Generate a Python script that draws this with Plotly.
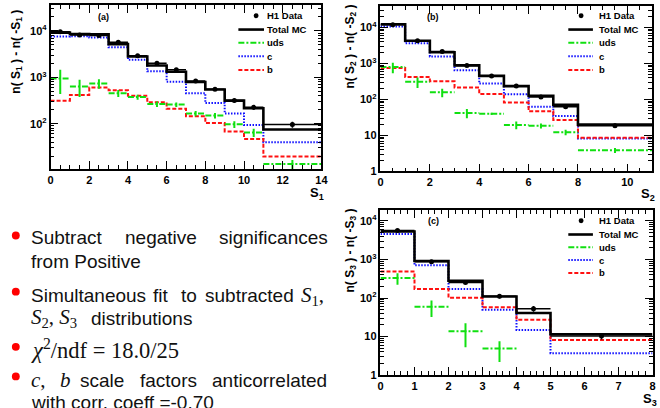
import plotly.graph_objects as go

# ---------------- data ----------------
# panel (a): S1
edges_a = [0, 1, 2, 3, 4, 5, 6, 7, 8, 9, 10, 11, 14]
data_a = [9600, 8200, 8000, 5700, 2900, 2000, 1450, 830, 555, 315, 225, 96]
data_err_a = [150, 140, 140, 120, 90, 75, 65, 50, 40, 30, 25, 14]
mc_a = [9200, 8600, 8500, 5200, 2800, 1800, 1320, 790, 545, 315, 215, 75]
c_a = [7600, 7700, 7200, 4440, 2400, 1350, 800, 455, 279, 166, 94, 40]
b_a = [313, 418, 600, 525, 400, 290, 210, 145, 103, 68, 47, 19.6]
uds_a = [945, 630, 740, 455, 375, 265, 258, 166, 150, 97, 65, 13.5]
uds_err_a = [510, 255, 170, 80, 45, 35, 30, 22, 20, 16, 13, 3]

# panel (b): S2
edges_b = [0, 1, 2, 3, 4, 5, 6, 7, 8, 11]
data_b = [12000, 4300, 2150, 885, 452, 235, 117, 63, 18.7]
data_err_b = [150, 90, 60, 40, 25, 18, 12, 9, 2.5]
mc_b = [12300, 4300, 2060, 885, 452, 235, 127, 71, 20]
c_b = [10700, 3640, 1560, 645, 277, 139, 63, 35, 8.2]
b_b = [750, 424, 323, 216, 141, 82, 47, 27, 8.6]
uds_b = [795, 310, 158, 42, 40, 19.6, 18.6, 12.3, 3.85]
uds_err_b = [260, 100, 42, 12, 3, 4.7, 3, 2.1, 0.6]

# panel (c): S3
edges_c = [0, 1, 2, 3, 4, 5, 8]
data_c = [5650, 875, 254, 112, 53, 10.4]
data_err_c = [110, 45, 25, 15, 9, 2]
mc_c = [5340, 910, 280, 110, 41, 11.5]
c_c = [4560, 705, 172, 50, 14.8, 3.7]
b_c = [490, 172, 101, 58, 27.5, 8.2]
uds_c = [330, 59, 13.8, 4.9]
uds_err_c = [110, 27, 8.5, 2.7]

x_ticks_a = [0, 2, 4, 6, 8, 10, 12, 14]
x_ticks_b = [0, 2, 4, 6, 8, 10]
x_ticks_c = [0, 1, 2, 3, 4, 5, 6, 7, 8]
y_ticks_a = [100, 1000, 10000]
y_ticks_bc = [1, 10, 100, 1000, 10000]
legend_names = ["H1 Data", "Total MC", "uds", "c", "b"]

# ---------------- style ----------------
W, H = 660, 408
def px(x):
    return x / W
def py(y):
    return 1 - y / H

GREEN = "#10e010"
BLUE = "#1010ff"
RED = "#ff1010"
TICKFONT = dict(family="Liberation Sans", size=11, color="black", weight="bold")
SANS = "Liberation Sans"
SERIF = "Liberation Serif"

DASH_B = "4px,2px"
DASH_C = "1.5px,1.5px"
DASH_UDS = "6px,2px,2px,2px"

fig = go.Figure()

panels = [
    dict(xa="x", ya="y", edges=edges_a, data=data_a, derr=data_err_a, mc=mc_a, c=c_a, b=b_a,
         uds=uds_a, uerr=uds_err_a),
    dict(xa="x2", ya="y2", edges=edges_b, data=data_b, derr=data_err_b, mc=mc_b, c=c_b, b=b_b,
         uds=uds_b, uerr=uds_err_b),
    dict(xa="x3", ya="y3", edges=edges_c, data=data_c, derr=data_err_c, mc=mc_c, c=c_c, b=b_c,
         uds=uds_c, uerr=uds_err_c),
]

for p in panels:
    e = p["edges"]
    centers = [(e[i] + e[i + 1]) / 2 for i in range(len(e) - 1)]
    halfw = [(e[i + 1] - e[i]) / 2 for i in range(len(e) - 1)]
    common = dict(xaxis=p["xa"], yaxis=p["ya"], showlegend=False, hoverinfo="skip")
    # c
    fig.add_trace(go.Scatter(x=e, y=p["c"] + [p["c"][-1]], mode="lines", line_shape="hv",
                             line=dict(color=BLUE, width=2, dash=DASH_C), **common))
    # b
    fig.add_trace(go.Scatter(x=e, y=p["b"] + [p["b"][-1]], mode="lines", line_shape="hv",
                             line=dict(color=RED, width=2, dash=DASH_B), **common))
    # uds horizontal segments
    ux, uy = [], []
    for i, v in enumerate(p["uds"]):
        ux += [e[i], e[i + 1], None]
        uy += [v, v, None]
    fig.add_trace(go.Scatter(x=ux, y=uy, mode="lines",
                             line=dict(color=GREEN, width=2, dash=DASH_UDS), **common))
    n = len(p["uds"])
    fig.add_trace(go.Scatter(x=centers[:n], y=p["uds"], mode="markers",
                             marker=dict(size=1, color="rgba(0,0,0,0)"),
                             error_y=dict(type="data", array=p["uerr"], color=GREEN,
                                          thickness=2, width=0),
                             **common))
    # total MC
    fig.add_trace(go.Scatter(x=e, y=p["mc"] + [p["mc"][-1]], mode="lines", line_shape="hv",
                             line=dict(color="black", width=2.6), **common))
    # data
    fig.add_trace(go.Scatter(x=centers, y=p["data"], mode="markers",
                             marker=dict(size=5, color="black"),
                             error_x=dict(type="data", array=halfw, color="black",
                                          thickness=1.5, width=0),
                             error_y=dict(type="data", array=p["derr"], color="black",
                                          thickness=1.5, width=0),
                             **common))

minor_log = [k * 10 ** n for n in range(0, 5) for k in range(2, 10)]

def xaxis(domain, rng, ticks, minor_dt, anchor):
    return dict(domain=domain, range=rng, anchor=anchor, tickvals=ticks,
                ticktext=[str(t) for t in ticks], ticks="inside", ticklen=8,
                tickwidth=1, tickcolor="black", showline=True, linewidth=1.5,
                linecolor="black", mirror="ticks", showgrid=False, zeroline=False,
                tickfont=TICKFONT,
                minor=dict(ticks="inside", ticklen=4, dtick=minor_dt, tickcolor="black",
                           showgrid=False))

def yaxis(domain, rng, ticks, anchor):
    def lab(t):
        if t == 1:
            return "1"
        if t == 10:
            return "10"
        ex = len(str(int(t))) - 1
        return "10<sup>%d</sup>" % ex
    return dict(domain=domain, range=rng, type="log", anchor=anchor, tickvals=ticks,
                ticktext=[lab(t) for t in ticks], ticks="inside", ticklen=8,
                tickwidth=1, tickcolor="black", showline=True, linewidth=1.5,
                linecolor="black", mirror="ticks", showgrid=False, zeroline=False,
                tickfont=TICKFONT,
                minor=dict(ticks="inside", ticklen=4, tickvals=minor_log, tickcolor="black",
                           showgrid=False))

fig.update_layout(
    width=W, height=H, autosize=False,
    margin=dict(l=0, r=0, t=0, b=0),
    paper_bgcolor="white", plot_bgcolor="white",
    xaxis=xaxis([px(48.3), px(323.3)], [0, 14], x_ticks_a, 0.5, "y"),
    yaxis=yaxis([py(171.7), py(5)], [1.02, 4.56], y_ticks_a, "x"),
    xaxis2=xaxis([px(383.3), px(659)], [0, 11], x_ticks_b, 0.5, "y2"),
    yaxis2=yaxis([py(174), py(6)], [0, 4.6], y_ticks_bc, "x2"),
    xaxis3=xaxis([px(383.3), px(659.5)], [0, 8], x_ticks_c, 0.2, "y3"),
    yaxis3=yaxis([py(380.7), py(213.3)], [0, 4.28], y_ticks_bc, "x3"),
)

ann = []
shapes = []

def text(x, y, s, size=12, family=SANS, bold=False, anchor="left", angle=0, yanchor="middle",
         color="black"):
    f = dict(family=family, size=size, color=color)
    if bold:
        f["weight"] = "bold"
    ann.append(dict(x=px(x), y=py(y), xref="paper", yref="paper", text=s, showarrow=False,
                    xanchor=anchor, yanchor=yanchor, font=f, textangle=angle, borderpad=0,
                    borderwidth=0))

# axis titles
for (x, ytop, k) in [(14, 10, 1), (353, 5, 2), (353, 212, 3)]:
    text(x, ytop, "n( S<sub>%d</sub> ) - n( -S<sub>%d</sub> )" % (k, k), size=12, bold=True,
         anchor="center", angle=-90, yanchor="top")
text(326, 196, "S<sub>1</sub>", size=13, bold=True, anchor="right")
text(662, 197, "S<sub>2</sub>", size=13, bold=True, anchor="right")
text(664, 405, "S<sub>3</sub>", size=13, bold=True, anchor="right")

# panel labels
text(102, 17, "(a)", size=9, bold=True, anchor="center")
text(437, 17, "(b)", size=9, bold=True, anchor="center")
text(437, 224, "(c)", size=9, bold=True, anchor="center")

# legends
legend_specs = [
    (257, 239, 265, 268, [16, 30, 43.5, 57, 71]),
    (587, 574, 599, 605, [16, 30, 43.5, 57, 71]),
    (587, 574, 599, 605, [224, 238, 251, 264, 277]),
]
line_styles = [None, dict(color="black", width=2.6), dict(color=GREEN, width=2, dash=DASH_UDS),
               dict(color=BLUE, width=2, dash=DASH_C), dict(color=RED, width=2, dash=DASH_B)]
for (mx, lx0, lx1, tx, rows) in legend_specs:
    for name, ry, st in zip(legend_names, rows, line_styles):
        if st is None:
            shapes.append(dict(type="circle", xref="paper", yref="paper",
                               x0=px(mx - 2.5), x1=px(mx + 2.5), y0=py(ry + 2.5), y1=py(ry - 2.5),
                               fillcolor="black", line=dict(width=0)))
        else:
            shapes.append(dict(type="line", xref="paper", yref="paper",
                               x0=px(lx0), x1=px(lx1), y0=py(ry), y1=py(ry), line=st))
        text(tx, ry, name, size=9.5, bold=True)

# bullet text
TXT = "#111111"
DY = 3
lines = [
    (238, [("Subtract", 28, SANS, 19), ("negative", 124, SANS, 19), ("significances", 219, SANS, 19)]),
    (262, [("from Positive", 28, SANS, 19)]),
    (297, [("Simultaneous", 28, SANS, 19), ("fit", 152, SANS, 19), ("to", 181, SANS, 19),
           ("subtracted", 205, SANS, 19), ("<i>S</i><sub>1</sub>,", 303, SERIF, 21)]),
    (320, [("<i>S</i><sub>2</sub>, <i>S</i><sub>3</sub>", 28, SERIF, 21),
           ("distributions", 89, SANS, 19)]),
    (351, [("<i>χ</i><sup>2</sup>/ndf = 18.0/25", 28, SERIF, 22.5)]),
    (383, [("<i>c</i>,", 28, SERIF, 21), ("<i>b</i>", 58, SERIF, 21), ("scale", 78, SANS, 19),
           ("factors", 139, SANS, 19), ("anticorrelated", 212, SANS, 19)]),
    (406, [("with corr. coeff =-0.70", 28, SANS, 19)]),
]
for (y, words) in lines:
    for (w, x, fam, sz) in words:
        text(x, y + DY, w, size=sz, family=fam, color=TXT)

for by in [239, 296, 352, 382]:
    shapes.append(dict(type="circle", xref="paper", yref="paper",
                       x0=px(9), x1=px(17), y0=py(by + 4), y1=py(by - 4),
                       fillcolor="#ff0000", line=dict(width=0)))

fig.update_layout(annotations=ann, shapes=shapes)
fig.write_html("out.html", post_script="document.body.style.margin='0';",
               config={"displayModeBar": False})
